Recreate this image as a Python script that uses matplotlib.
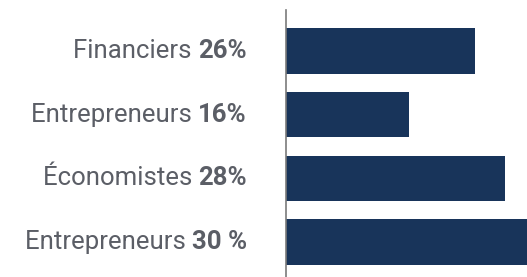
import matplotlib.pyplot as plt

# labels shown on the left (name + bold percentage)
names = ['Financiers', 'Entrepreneurs', 'Économistes', 'Entrepreneurs']
pct_labels = ['26%', '16%', '28%', '30 %']
# bar lengths (last bar runs past the edge)
bar_values = [25.1, 16.3, 29.1, 32.5]

plt.rcParams['font.family'] = ['Roboto', 'DejaVu Sans']

fig = plt.figure(figsize=(5.27, 2.77), dpi=100)
ax = fig.add_axes([286 / 527, 0, 241 / 527, 1 - 10 / 277])

ypos = list(range(len(names)))
ax.barh(ypos, bar_values, height=0.714, color='#18345a')
ax.set_xlim(0, 32)
ax.set_ylim(3.547, -0.639)

for s in ['top', 'right', 'bottom']:
    ax.spines[s].set_visible(False)
ax.spines['left'].set_color('#7a7a7a')
ax.spines['left'].set_linewidth(1.2)
ax.set_xticks([])
ax.set_yticks([])

txt_color = '#5b5e66'
fs = 18.5
tr = ax.get_yaxis_transform()
for y, name, pct in zip(ypos, names, pct_labels):
    t = ax.text(-0.162, y, pct, transform=tr, ha='right', va='center',
                fontsize=fs, fontweight='bold', color=txt_color)
    ax.annotate(name + ' ', xy=(0, 0), xycoords=t, ha='right', va='bottom',
                fontsize=fs, color=txt_color, annotation_clip=False)

fig.savefig('out.png', dpi=100)
